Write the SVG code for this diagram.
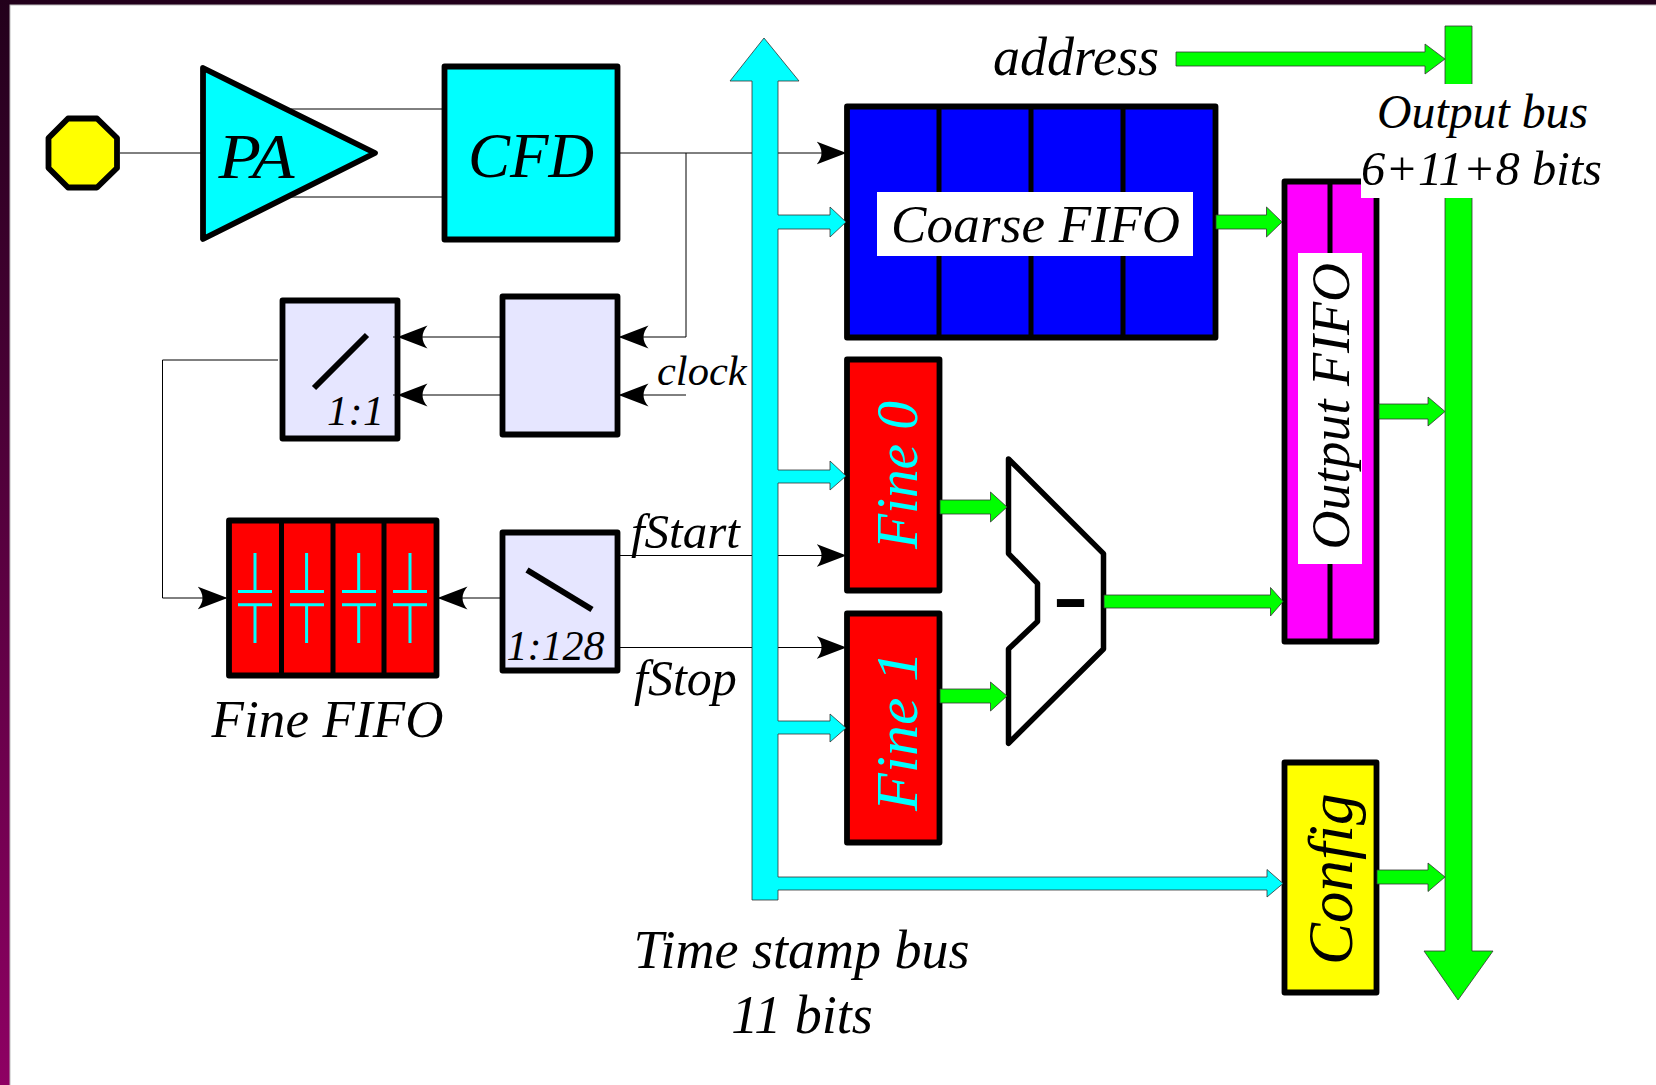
<svg xmlns="http://www.w3.org/2000/svg" width="1656" height="1085" viewBox="0 0 1656 1085">
<style>
text{font-family:"Liberation Serif","Times New Roman",serif;font-style:italic;fill:#000}
.box{stroke:#000;stroke-width:5.800;stroke-linejoin:round}
.div{stroke:#000;stroke-width:5;fill:none}
.ln{stroke:#000;stroke-width:1;fill:none}
.ar{stroke:#000;stroke-width:1;fill:none;marker-end:url(#tip)}
.bus{stroke:#333;stroke-width:.8;stroke-linejoin:miter}
.c{fill:#0ff}.g{fill:#0f0}
.cap{stroke:#0ff;stroke-width:3;fill:none}
.sl{stroke:#000;stroke-width:6;fill:none}
</style>
<defs>
<linearGradient id="bg" x1="0" y1="0" x2="0" y2="1"><stop offset="0" stop-color="#22001b"/><stop offset="1" stop-color="#8e0063"/></linearGradient>
<marker id="tip" markerUnits="userSpaceOnUse" viewBox="0 -1 31 24" refX="28.500" refY="11" markerWidth="31" markerHeight="24" orient="auto"><path d="M30 11L0 -.5Q10 11 0 22.500Z" fill="#000"/></marker>
</defs>
<rect width="1656" height="1085" fill="url(#bg)"/>
<rect x="10" y="5" width="1660" height="1090" fill="#fff" stroke="#bbb" stroke-width="1"/>

<g id="sensor"><polygon class="box" points="68,118.5 97,118.5 117,138 117,168 97,187.5 68,187.5 48.500,168 48.500,138" fill="#ff0"/></g>
<g id="pa"><polygon class="box" points="203,68 375,153 203,239" fill="#0ff"/><text x="218.500" y="178" font-size="64" textLength="76" lengthAdjust="spacingAndGlyphs">PA</text></g>
<g id="cfd"><rect class="box" x="444.500" y="66.500" width="173" height="173" fill="#0ff"/><text x="468" y="177" font-size="64" textLength="126" lengthAdjust="spacingAndGlyphs">CFD</text></g>
<g id="latch"><rect class="box" x="502.500" y="296.500" width="115" height="138" fill="#e6e6ff"/></g>
<g id="div1"><rect class="box" x="282.500" y="300.500" width="115" height="138" fill="#e6e6ff"/><path class="sl" d="M314 388L367 335"/><text x="327" y="425" font-size="42" textLength="57" lengthAdjust="spacing">1:1</text></g>
<g id="div128"><rect class="box" x="502.500" y="532.500" width="115" height="138" fill="#e6e6ff"/><path class="sl" d="M527 570L592 609.500"/><text x="506.500" y="660" font-size="42">1:128</text></g>
<g id="fine-fifo"><rect class="box" x="229" y="520.500" width="207.500" height="155" fill="#f00"/><path class="div" d="M281.500 520V676M333 520V676M384 520V676"/>
<path class="cap" d="M255 553V591.500M238 591.500H272M238 604.700H272M255 604.700V643M306.600 553V591.500M290 591.500H324M290 604.700H324M306.600 604.700V643M358.700 553V591.500M342 591.500H376M342 604.700H376M358.700 604.700V643M410 553V591.500M393 591.500H427M393 604.700H427M410 604.700V643"/>
<text x="211.500" y="737" font-size="53" textLength="232" lengthAdjust="spacing">Fine FIFO</text></g>
<g id="coarse-fifo"><rect class="box" x="847" y="106.500" width="368.500" height="231" fill="#00f"/><path class="div" d="M939 106V338M1031 106V338M1123 106V338"/><rect x="877" y="192" width="316" height="64" fill="#fff"/><text x="891" y="242" font-size="53" textLength="289" lengthAdjust="spacing">Coarse FIFO</text></g>
<g id="fine0"><rect class="box" x="847" y="359.500" width="92.500" height="231" fill="#f00"/><text transform="translate(917 549) rotate(-90)" font-size="60" textLength="148" lengthAdjust="spacingAndGlyphs" style="fill:#0ff">Fine 0</text></g>
<g id="fine1"><rect class="box" x="847" y="613.500" width="92.500" height="229" fill="#f00"/><text transform="translate(917 811) rotate(-90)" font-size="60" textLength="160" lengthAdjust="spacingAndGlyphs" style="fill:#0ff">Fine 1</text></g>
<g id="subtract"><polygon points="1008.500,459 1103.500,553.600 1103.500,649 1008.500,743.400 1008.500,649 1037.500,621.400 1037.500,583.300 1008.500,553.600" fill="#fff" stroke="#000" stroke-width="5.500" stroke-linejoin="round"/><text x="1053" y="628" font-size="105" style="font-style:normal">-</text></g>
<g id="output-fifo"><rect class="box" x="1284.500" y="181.500" width="92" height="460" fill="#f0f"/><path class="div" d="M1330 180V642"/><rect x="1298" y="253" width="64" height="311" fill="#fff"/><text transform="translate(1349 549.500) rotate(-90)" font-size="54">Output FIFO</text></g>
<g id="config"><rect class="box" x="1284.500" y="762.500" width="92" height="230" fill="#ff0"/><text transform="translate(1352 965) rotate(-90)" font-size="63">Config</text></g>

<g id="connectors">
<path class="ln" d="M120 153H201M291 109H442M291 197H442M686 153V337"/>
<path class="ar" d="M620 153H845"/>
<path class="ar" d="M686 337H620"/>
<path class="ar" d="M686 395H620"/>
<path class="ar" d="M500 337H399"/>
<path class="ln" d="M399 337H393M399 395H393"/>
<path class="ar" d="M500 395H399"/>
<path class="ar" d="M278 360H162.500V598H226"/>
<path class="ar" d="M500 598H439"/>
<path class="ar" d="M620 555.500H845"/>
<path class="ar" d="M620 647.500H845"/>
<path class="c bus" d="M764 38L799 81H778V215H830V207L846 222L830 237V229H778V470H830V461L846 476L830 490V483H778V721H830V714L846 728L830 742V734H778V877H1267V869.500L1283 883.500L1267 897V890H778V900H752V81H730Z"/>
<path class="g bus" d="M1445 26H1472V951H1493L1458 1000L1424 951H1445Z"/>
<path class="g bus" d="M1176 52H1425V44L1445 59L1425 74V66H1176Z"/>
<path class="g bus" d="M1216 215H1266.500V207L1282 222L1266.500 237V229H1216Z"/>
<path class="g bus" d="M1379 404H1428V397L1445 411.500L1428 426V419H1379Z"/>
<path class="g bus" d="M940 500H990.500V492L1007 507L990.500 522V514H940Z"/>
<path class="g bus" d="M940 689H990.500V682L1007 696L990.500 711V703H940Z"/>
<path class="g bus" d="M1104 595H1270.500V587.500L1283 601.500L1270.500 616V608H1104Z"/>
<path class="g bus" d="M1377 870H1428V863L1445 877L1428 891.500V884H1377Z"/>
</g>

<g id="labels">
<text x="657" y="385" font-size="42.500">clock</text>
<text x="631" y="548" font-size="49">fStart</text>
<text x="634" y="695" font-size="50">fStop</text>
<text x="993" y="75" font-size="54">address</text>
<text x="801.500" y="968" font-size="54" text-anchor="middle">Time stamp bus</text>
<text x="802" y="1033" font-size="54" text-anchor="middle">11 bits</text>
<rect x="1361" y="84" width="244" height="114" fill="#fff"/>
<text x="1377" y="128" font-size="48" textLength="211" lengthAdjust="spacingAndGlyphs">Output bus</text>
<text x="1361" y="185" font-size="48" textLength="241" lengthAdjust="spacingAndGlyphs">6+11+8 bits</text>
</g>
</svg>
